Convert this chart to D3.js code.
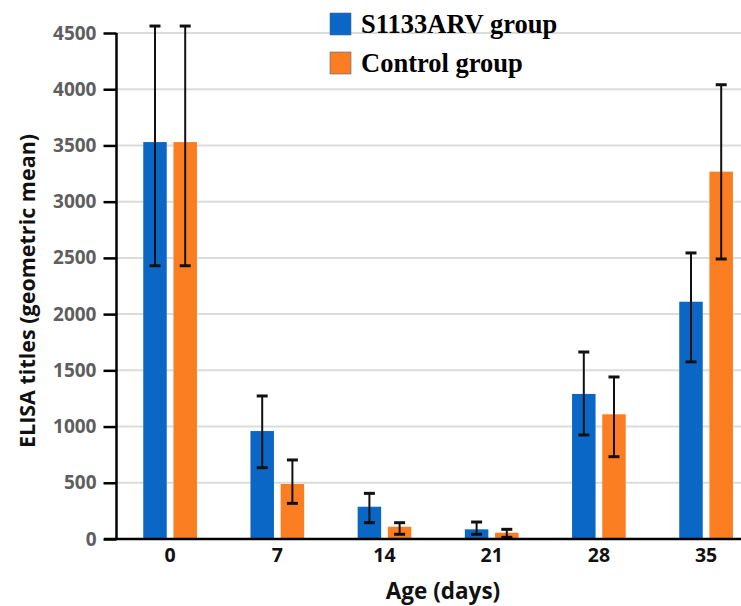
<!DOCTYPE html>
<html>
<head>
<meta charset="utf-8">
<script src="https://cdn.jsdelivr.net/npm/d3@7"></script>
<style>
  body { margin: 0; background: #fff; }
  svg { display: block; }
</style>
</head>
<body>
<svg id="chart" width="741" height="606"></svg>
<script>
const categories = ["0", "7", "14", "21", "28", "35"];
const seriesNames = ["S1133ARV group", "Control group"];
const s1133Values = [3530, 960, 287, 86, 1290, 2110];
const s1133Upper  = [4562, 1272, 406, 151, 1663, 2544];
const s1133Lower  = [2430, 634, 145, 42, 925, 1575];
const controlValues = [3530, 489, 109, 56, 1109, 3267];
const controlUpper  = [4562, 703, 145, 86, 1441, 4040];
const controlLower  = [2430, 317, 42, 15, 732, 2490];
const yTicks = [0, 500, 1000, 1500, 2000, 2500, 3000, 3500, 4000, 4500];
const colors = ["#0b67c6", "#fc7e22"];

const svg = d3.select("#chart");
const W = 741, H = 606;
const x0 = 116.5, step = 107.2;
const yTop = 33, yBot = 539;

const x = d3.scaleBand().domain(categories).range([x0, x0 + step * categories.length]).padding(0);
const x1 = d3.scaleBand().domain(seriesNames).range([0, x.bandwidth()]).paddingInner(0.222).paddingOuter(0.886);
const y = d3.scaleLinear().domain([0, 4500]).range([yBot, yTop]);

// gridlines
svg.append("g").selectAll("line").data(yTicks.filter(d => d > 0)).join("line")
  .attr("x1", x0).attr("x2", W)
  .attr("y1", d => y(d)).attr("y2", d => y(d))
  .attr("stroke", "#dcdcdc").attr("stroke-width", 2);

const rows = categories.map((c, i) => ({
  cat: c,
  items: [
    { s: seriesNames[0], v: s1133Values[i], hi: s1133Upper[i], lo: s1133Lower[i], color: colors[0] },
    { s: seriesNames[1], v: controlValues[i], hi: controlUpper[i], lo: controlLower[i], color: colors[1] }
  ]
}));

const groups = svg.append("g").selectAll("g").data(rows).join("g")
  .attr("transform", d => `translate(${x(d.cat)},0)`);

groups.selectAll("rect").data(d => d.items).join("rect")
  .attr("x", d => x1(d.s)).attr("width", x1.bandwidth())
  .attr("y", d => y(d.v)).attr("height", d => y(0) - y(d.v))
  .attr("fill", d => d.color);

const eb = groups.selectAll("g.err").data(d => d.items).join("g").attr("class", "err")
  .attr("transform", d => `translate(${x1(d.s) + x1.bandwidth() / 2},0)`);
eb.append("line").attr("x1", 0).attr("x2", 0)
  .attr("y1", d => y(d.hi)).attr("y2", d => y(d.lo))
  .attr("stroke", "#111").attr("stroke-width", 2);
eb.append("line").attr("x1", -5.5).attr("x2", 5.5)
  .attr("y1", d => y(d.hi)).attr("y2", d => y(d.hi))
  .attr("stroke", "#111").attr("stroke-width", 3);
eb.append("line").attr("x1", -5.5).attr("x2", 5.5)
  .attr("y1", d => y(d.lo)).attr("y2", d => y(d.lo))
  .attr("stroke", "#111").attr("stroke-width", 3);

// y axis
const yAxis = svg.append("g").attr("transform", `translate(${x0},0)`)
  .call(d3.axisLeft(y).tickValues(yTicks).tickSize(13).tickPadding(7).tickFormat(d3.format("d")));
yAxis.select(".domain").attr("stroke", "#000").attr("stroke-width", 2.5)
  .attr("d", `M0,${yTop}V${yBot}`);
yAxis.selectAll(".tick line").attr("stroke", "#000").attr("stroke-width", 2.5);
yAxis.selectAll(".tick text").attr("fill", "#5e5e5e")
  .style("font-family", "'Open Sans', sans-serif").style("font-weight", 700).style("font-size", "19px");

// x axis
const xAxis = svg.append("g").attr("transform", `translate(0,${yBot})`)
  .call(d3.axisBottom(x).tickSize(0).tickPadding(9));
xAxis.select(".domain").attr("stroke", "#000").attr("stroke-width", 2.5)
  .attr("d", `M104,0H${W}`);
xAxis.selectAll(".tick text").attr("fill", "#111")
  .style("font-family", "'Open Sans', sans-serif").style("font-weight", 700).style("font-size", "19.5px");

// axis titles
svg.append("text").attr("transform", "translate(35,291) rotate(-90)")
  .attr("text-anchor", "middle").attr("fill", "#111")
  .style("font-family", "'Open Sans', sans-serif").style("font-weight", 700).style("font-size", "21.5px")
  .text("ELISA titles (geometric mean)");
svg.append("text").attr("x", 443).attr("y", 599)
  .attr("text-anchor", "middle").attr("fill", "#111")
  .style("font-family", "'Open Sans', sans-serif").style("font-weight", 700).style("font-size", "22.5px")
  .text("Age (days)");

// legend
const lg = svg.append("g").selectAll("g").data(seriesNames).join("g")
  .attr("transform", (d, i) => `translate(330,${13 + i * 39})`);
lg.append("rect").attr("width", 21).attr("height", 22)
  .attr("fill", (d, i) => colors[i]).attr("stroke", "#4a6a90").attr("stroke-width", 0.6);
lg.append("text").attr("x", 31).attr("y", 20)
  .attr("fill", "#000")
  .style("font-family", "'Liberation Serif', 'Times New Roman', serif").style("font-weight", 700).style("font-size", "26.5px")
  .text(d => d);
</script>
</body>
</html>
